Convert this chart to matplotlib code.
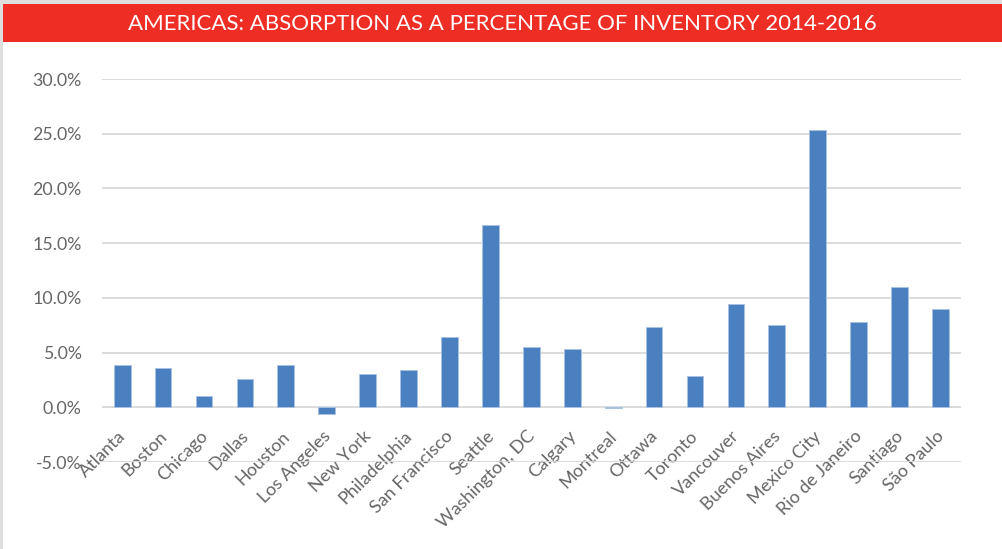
import matplotlib
matplotlib.use("Agg")
import matplotlib.pyplot as plt
from matplotlib.patches import Rectangle
from matplotlib.transforms import ScaledTranslation
from matplotlib.ticker import FuncFormatter

# Absorption as a percentage of inventory, 2014-2016
cities = ["Atlanta", "Boston", "Chicago", "Dallas", "Houston", "Los Angeles",
          "New York", "Philadelphia", "San Francisco", "Seattle", "Washington, DC",
          "Calgary", "Montreal", "Ottawa", "Toronto", "Vancouver", "Buenos Aires",
          "Mexico City", "Rio de Janeiro", "Santiago", "São Paulo"]
absorption_pct = [3.9, 3.6, 1.05, 2.6, 3.9, -0.65,
                  3.0, 3.4, 6.4, 16.7, 5.5,
                  5.35, -0.1, 7.3, 2.9, 9.4, 7.5,
                  25.35, 7.8, 11.0, 9.0]
y_ticks = [-5, 0, 5, 10, 15, 20, 25, 30]
title_text = "AMERICAS: ABSORPTION AS A PERCENTAGE OF INVENTORY 2014-2016"

plt.rcParams["font.family"] = ["Lato", "DejaVu Sans"]

W, H = 1003, 549
fig = plt.figure(figsize=(W / 100, H / 100), dpi=100)
fig.patch.set_facecolor("white")

# page frame: grey strips along the top and left edges
fig.patches.append(Rectangle((0, 1 - 4 / H), 1, 4 / H, transform=fig.transFigure,
                             facecolor="#DEDEDE", edgecolor="none", zorder=0))
fig.patches.append(Rectangle((0, 0), 3 / W, 1, transform=fig.transFigure,
                             facecolor="#DEDEDE", edgecolor="none", zorder=0))
# red header band
fig.patches.append(Rectangle((3 / W, 1 - 41.5 / H), 1 - 3 / W, 37.5 / H,
                             transform=fig.transFigure, facecolor="#EE2E24",
                             edgecolor="none", zorder=1))
fig.text(502 / W, 1 - 23.5 / H, title_text, color="white", fontsize=16,
         ha="center", va="center", zorder=2)

ax = fig.add_axes([101.7 / W, 1 - 462 / H, (961 - 101.7) / W, (462 - 79) / H])
x = list(range(len(cities)))
ax.bar(x, absorption_pct, width=0.41, color="#4A7FC0", edgecolor="#A9C2E4",
       linewidth=0.7, zorder=3)

ax.set_xlim(-0.5, len(cities) - 0.5)
ax.set_ylim(-5, 30)
ax.set_yticks(y_ticks)
ax.yaxis.set_major_formatter(FuncFormatter(lambda v, _: f"{v:.1f}%"))
ax.grid(axis="y", color="#D9D9D9", linewidth=1.3, zorder=0)
ax.set_axisbelow(True)
for s in ax.spines.values():
    s.set_visible(False)
ax.spines["bottom"].set_position(("data", 0))

ax.tick_params(axis="y", length=0, pad=14.5, labelsize=12.8, labelcolor="#666666")
ax.tick_params(axis="x", length=0, pad=19, labelsize=13, labelcolor="#666666")
ax.set_xticks(x)
ax.set_xticklabels(cities, rotation=45, ha="right", va="center",
                   rotation_mode="anchor")
shift = ScaledTranslation(1.0 / 100, 0, fig.dpi_scale_trans)
for lbl in ax.get_xticklabels():
    lbl.set_transform(lbl.get_transform() + shift)

fig.savefig("out.png", dpi=100)
